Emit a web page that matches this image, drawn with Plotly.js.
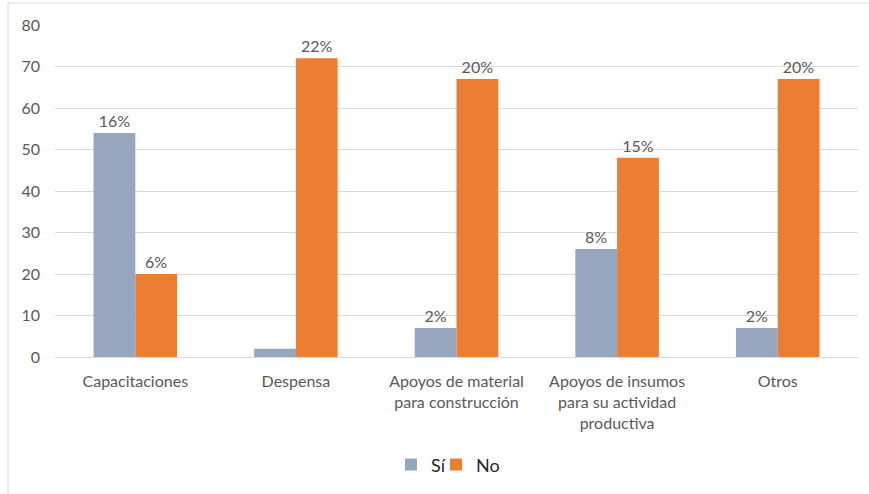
<!DOCTYPE html>
<html>
<head>
<meta charset="utf-8">
<script src="https://cdn.plot.ly/plotly-3.0.1.min.js"></script>
<style>html,body{margin:0;padding:0;background:#fff;}#chart{width:869px;height:494px;}</style>
</head>
<body>
<div id="chart"></div>
<script>
const categories = ["Capacitaciones", "Despensa", "Apoyos de material<br>para construcción", "Apoyos de insumos<br>para su actividad<br>productiva", "Otros"];
const siValues = [54, 2, 7, 26, 7];
const noValues = [20, 72, 67, 48, 67];
const siLabels = ["16%", "", "2%", "8%", "2%"];
const noLabels = ["6%", "22%", "20%", "15%", "20%"];
const yTicks = [0, 10, 20, 30, 40, 50, 60, 70, 80];

const font = "Lato, 'Open Sans', sans-serif";
const traces = [
  {type: "bar", name: "Sí", x: categories, y: siValues, text: siLabels, textposition: "outside", legend: "legend",
   marker: {color: "#97a6bf"}, textfont: {color: "#595959", size: 16, family: font}, cliponaxis: false, hoverinfo: "none"},
  {type: "bar", name: "No", x: categories, y: noValues, text: noLabels, textposition: "outside", legend: "legend2",
   marker: {color: "#ed7d31"}, textfont: {color: "#595959", size: 16, family: font}, cliponaxis: false, hoverinfo: "none"}
];
const legendStyle = {orientation: "h", xanchor: "left", y: -0.325, yanchor: "middle",
                     font: {size: 18, color: "#262626"}, itemwidth: 30, bgcolor: "rgba(0,0,0,0)"};
const layout = {
  width: 869, height: 494,
  margin: {l: 55, r: 11, t: 25, b: 137},
  paper_bgcolor: "#fff", plot_bgcolor: "#fff",
  barmode: "group", bargap: 0.48, bargroupgap: 0,
  font: {family: font, color: "#595959", size: 16},
  xaxis: {tickfont: {size: 16, color: "#595959"}, showline: true, linecolor: "#d9d9d9", linewidth: 1, ticks: "", ticklabelstandoff: 10, automargin: false},
  yaxis: {range: [0, 80], tickvals: yTicks, showgrid: true, gridcolor: "#d9d9d9", gridwidth: 1, zeroline: false,
          tickfont: {size: 16, color: "#595959"}, ticks: "", ticklabelstandoff: 14, automargin: false},
  showlegend: true,
  legend: Object.assign({}, legendStyle, {x: 0.4184}),
  legend2: Object.assign({}, legendStyle, {x: 0.4745}),
  shapes: [
    {type: "line", xref: "paper", yref: "paper", x0: -0.0585, x1: 1.02, y0: 1.066, y1: 1.066, line: {color: "#d9d9d9", width: 1}},
    {type: "line", xref: "paper", yref: "paper", x0: -0.0585, x1: -0.0585, y0: 1.066, y1: -0.42, line: {color: "#d9d9d9", width: 1}}
  ]
};
Plotly.newPlot("chart", traces, layout, {displayModeBar: false, staticPlot: true});
</script>
</body>
</html>
